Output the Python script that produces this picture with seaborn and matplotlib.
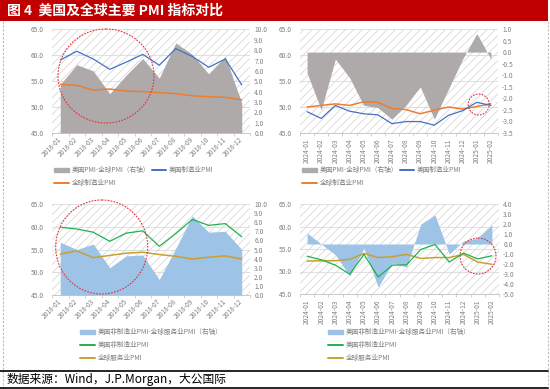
import matplotlib
matplotlib.use('Agg')

import numpy as np
import pandas as pd
import matplotlib.pyplot as plt
from matplotlib.patches import Rectangle, Ellipse, Patch
from matplotlib.lines import Line2D
import seaborn as sns

# ---- data ----
months_2018 = ['2018-%02d' % m for m in range(1, 13)]
months_2024 = ['2024-%02d' % m for m in range(1, 13)] + ['2025-01', '2025-02']

us_mfg_2018 = [59.1, 60.8, 59.3, 57.3, 58.7, 60.2, 58.1, 61.3, 59.8, 57.7, 59.3, 54.3]
gl_mfg_2018 = [54.4, 54.2, 53.3, 53.5, 53.1, 53.0, 52.8, 52.6, 52.2, 52.0, 51.9, 51.4]
diff_mfg_2018 = [4.7, 6.6, 6.0, 3.8, 5.6, 7.2, 5.3, 8.7, 7.6, 5.7, 7.4, 2.9]

us_mfg_2024 = [49.1, 47.8, 50.3, 49.2, 48.7, 48.5, 46.8, 47.2, 47.2, 46.5, 48.4, 49.3, 50.9, 50.3]
gl_mfg_2024 = [50.0, 50.3, 50.6, 50.3, 51.0, 50.9, 49.7, 49.5, 48.7, 49.4, 50.0, 49.6, 50.1, 50.6]
diff_mfg_2024 = [-0.9, -2.5, -0.3, -1.1, -2.3, -2.4, -2.9, -2.3, -1.5, -2.9, -1.6, -0.3, 0.8, -0.3]

us_srv_2018 = [59.9, 59.5, 58.8, 56.8, 58.6, 59.1, 55.7, 58.5, 61.6, 60.3, 60.7, 57.8]
gl_srv_2018 = [54.0, 54.7, 53.2, 53.7, 54.2, 54.4, 53.9, 53.5, 52.9, 53.3, 53.6, 52.9]
diff_srv_2018 = [5.8, 5.0, 5.6, 3.0, 4.3, 4.4, 1.7, 5.1, 8.7, 6.9, 7.0, 5.0]

us_srv_2024 = [53.4, 52.6, 51.4, 49.4, 53.8, 48.8, 51.4, 51.5, 54.9, 56.0, 52.1, 54.1, 52.8, 53.5]
gl_srv_2024 = [52.3, 52.4, 52.4, 52.7, 54.0, 53.1, 53.3, 53.8, 52.9, 53.1, 53.1, 53.8, 52.1, 51.6]
diff_srv_2024 = [1.1, 0.0, -1.1, -3.2, -0.4, -4.3, -1.9, -2.3, 2.0, 2.9, -1.0, 0.3, 0.6, 1.9]

lab_mfg = ['美国PMI-全球PMI（右轴）', '美国制造业PMI', '全球制造业PMI']
lab_srv = ['美国非制造业PMI-全球服务业PMI（右轴）', '美国非制造业PMI', '全球服务业PMI']

sns.set_theme(style='white')
plt.rcParams['font.family'] = ['Noto Sans CJK SC', 'DejaVu Sans']
plt.rcParams['axes.unicode_minus'] = False
plt.rcParams['hatch.linewidth'] = 0.4
plt.rcParams['hatch.color'] = '#c8c8c8'

W, H = 550, 389
fig = plt.figure(figsize=(5.5, 3.89), dpi=100)
TICK_C = '#808080'


def rect(x0, y0, x1, y1):
    return [x0 / W, 1 - y1 / H, (x1 - x0) / W, (y1 - y0) / H]


def panel(r, cats, area, us, gl, c_area, c_us, c_gl, rlim, rticks, rot):
    n = len(cats)
    x = np.arange(n)
    # background: hatch + grid
    bg = fig.add_axes(r)
    bg.set_xlim(-0.5, n - 0.5)
    bg.set_ylim(45, 65)
    bg.patch.set_hatch('////')
    bg.patch.set_edgecolor('#c8c8c8')
    bg.patch.set_linewidth(0)
    bg.set_yticks(np.arange(45, 65.1, 5))
    bg.grid(axis='y', color='#d9d9d9', lw=0.6)
    bg.tick_params(left=False, bottom=False, labelleft=False, labelbottom=False)
    for s in bg.spines.values():
        s.set_visible(False)

    # right axis: difference area
    ax2 = fig.add_axes(r)
    ax2.patch.set_visible(False)
    ax2.set_xlim(-0.5, n - 0.5)
    ax2.fill_between(x, 0, area, color=c_area, lw=0)
    ax2.set_ylim(*rlim)
    ax2.yaxis.tick_right()
    ax2.set_yticks(rticks)
    ax2.set_yticklabels(['%.1f' % v for v in rticks])
    ax2.tick_params(axis='y', length=0, pad=3, labelsize=4.8, labelcolor=TICK_C)
    ax2.tick_params(bottom=False, labelbottom=False)
    for s in ax2.spines.values():
        s.set_visible(False)

    # left axis: PMI lines
    ax = fig.add_axes(r)
    ax.patch.set_visible(False)
    df = pd.DataFrame({'x': x, 'us': us, 'gl': gl})
    sns.lineplot(data=df, x='x', y='gl', ax=ax, color=c_gl, lw=1.1)
    sns.lineplot(data=df, x='x', y='us', ax=ax, color=c_us, lw=0.9)
    ax.set_xlim(-0.5, n - 0.5)
    ax.set_ylim(45, 65)
    ax.set_xlabel('')
    ax.set_ylabel('')
    ax.set_yticks(np.arange(45, 65.1, 5))
    ax.set_yticklabels(['%.1f' % v for v in np.arange(45, 65.1, 5)])
    ax.tick_params(axis='y', length=0, pad=6, labelsize=4.8, labelcolor=TICK_C)
    ax.set_xticks(x)
    ax.set_xticklabels(cats, rotation=rot, ha='right', va='center',
                       rotation_mode='anchor')
    ax.set_xticks(np.arange(n + 1) - 0.5, minor=True)
    ax.tick_params(axis='x', which='major', length=0, pad=4, labelsize=4.8,
                   labelcolor=TICK_C)
    ax.tick_params(axis='x', which='minor', length=2.5, width=0.5,
                   color='#bfbfbf', bottom=True)
    for k in ['left', 'right', 'top']:
        ax.spines[k].set_visible(False)
    ax.spines['bottom'].set_color('#bfbfbf')
    ax.spines['bottom'].set_linewidth(0.6)
    return ax


panel(rect(52, 29.5, 250, 133), months_2018, diff_mfg_2018, us_mfg_2018, gl_mfg_2018,
      '#AEAAAA', '#4472C4', '#ED7D31', (0, 10), np.arange(0, 10.1, 1), 45)
panel(rect(300, 29, 498, 133), months_2024, diff_mfg_2024, us_mfg_2024, gl_mfg_2024,
      '#AEAAAA', '#4472C4', '#ED7D31', (-3.5, 1.0), np.arange(-3.5, 1.01, 0.5), 90)
panel(rect(52, 204, 250, 295), months_2018, diff_srv_2018, us_srv_2018, gl_srv_2018,
      '#9DC3E6', '#22B14C', '#C9A030', (0, 10), np.arange(0, 10.1, 1), 45)
panel(rect(300, 204, 499, 294), months_2024, diff_srv_2024, us_srv_2024, gl_srv_2024,
      '#9DC3E6', '#22B14C', '#C9A030', (-5, 4), np.arange(-5, 4.1, 1), 90)


def legend(x0, y0, labels, c_area, c_us, c_gl, ncol, colsp):
    h = [Patch(color=c_area), Line2D([], [], color=c_gl, lw=1.4),
         Line2D([], [], color=c_us, lw=1.4)]
    lb = [labels[0], labels[2], labels[1]]
    if ncol == 1:
        h = [h[0], h[2], h[1]]
        lb = [labels[0], labels[1], labels[2]]
    fig.legend(h, lb, loc='upper left', bbox_to_anchor=(x0 / W, 1 - y0 / H),
               ncol=ncol, frameon=False, fontsize=4.8, labelcolor=TICK_C,
               handlelength=2.2, handleheight=0.6, handletextpad=0.4,
               labelspacing=0.75, columnspacing=colsp, borderpad=0,
               borderaxespad=0)


legend(54, 166, lab_mfg, '#AEAAAA', '#4472C4', '#ED7D31', 2, 0.3)
legend(302, 166, lab_mfg, '#AEAAAA', '#4472C4', '#ED7D31', 2, 0.3)
legend(80, 328, lab_srv, '#9DC3E6', '#22B14C', '#C9A030', 1, 1)
legend(328, 328, lab_srv, '#9DC3E6', '#22B14C', '#C9A030', 1, 1)

# ---- decorations: title bar, frame, footer, red circles ----
ov = fig.add_axes([0, 0, 1, 1])
ov.set_xlim(0, W)
ov.set_ylim(H, 0)
ov.axis('off')
ov.patch.set_visible(False)
ov.add_patch(Rectangle((0, 0), 548, 21, color='#C00000', lw=0))
ov.text(7, 10.5, '图 4  美国及全球主要 PMI 指标对比', color='white', fontsize=10,
        fontweight='bold', va='center', ha='left')
ov.plot([2.5, 2.5], [21, 389], color='#bdbdbd', lw=0.8, ls=(0, (2, 1.5)))
ov.plot([547.5, 547.5], [21, 389], color='#bdbdbd', lw=0.8, ls=(0, (2, 1.5)))
ov.plot([0, 548], [371, 371], color='black', lw=1.2)
ov.plot([0, 548], [388, 388], color='black', lw=1.2)
ov.text(7, 380, '数据来源：Wind，J.P.Morgan，大公国际', color='black', fontsize=8.5,
        va='center', ha='left')
for cx, cy, w, h in [(106, 76, 96, 94), (478.7, 104.5, 21, 21),
                     (101.7, 247, 92, 94), (478, 256, 36, 36)]:
    ov.add_patch(Ellipse((cx, cy), w, h, fill=False, ec='#E0303A', lw=0.8,
                         ls=(0, (1.5, 1.2))))

fig.savefig('out.png', dpi=100)
